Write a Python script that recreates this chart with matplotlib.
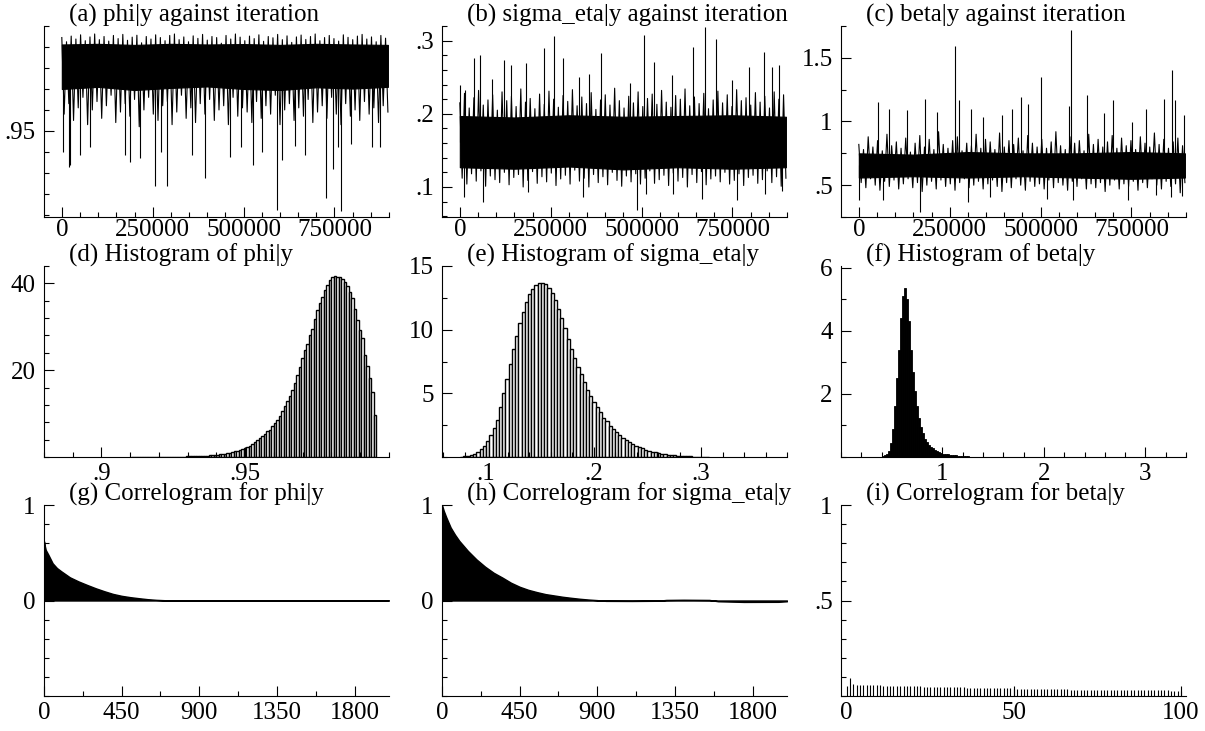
import numpy as np
import matplotlib
matplotlib.use("Agg")
import matplotlib.pyplot as plt
from matplotlib.ticker import FixedLocator, MultipleLocator, FuncFormatter, NullLocator

plt.rcParams['font.family'] = ['Liberation Serif', 'DejaVu Serif']

# ---------------- data ----------------
# (a) phi|y trace: dense core, edge extremes, isolated spikes
phi_band_iter = [0, 100000, 200000, 300000, 400000, 500000, 600000, 700000, 800000, 897000]
phi_band_hi = [0.9912, 0.9915, 0.9910, 0.9915, 0.9912, 0.9914, 0.9910, 0.9915, 0.9912, 0.9910]
phi_band_lo = [0.9700, 0.9710, 0.9695, 0.9705, 0.9712, 0.9700, 0.9695, 0.9708, 0.9702, 0.9710]
phi_edge_hi = [0.9945, 0.9925, 0.9952, 0.9938, 0.9958, 0.9930, 0.9948, 0.9962, 0.9935, 0.9950,
               0.9928, 0.9955, 0.9940, 0.9960, 0.9932, 0.9947, 0.9956, 0.9920, 0.9950, 0.9938,
               0.9958, 0.9945, 0.9930, 0.9955, 0.9962, 0.9935, 0.9948, 0.9925, 0.9953, 0.9941,
               0.9960, 0.9933, 0.9950, 0.9945, 0.9918, 0.9955, 0.9938, 0.9962, 0.9947, 0.9930,
               0.9952, 0.9940, 0.9958, 0.9927, 0.9950, 0.9944, 0.9960, 0.9935, 0.9953, 0.9922,
               0.9948, 0.9957, 0.9936, 0.9950, 0.9962, 0.9930, 0.9945, 0.9955, 0.9940, 0.9928,
               0.9958, 0.9946, 0.9935, 0.9952, 0.9960, 0.9938, 0.9948, 0.9925, 0.9955, 0.9942]
phi_edge_lo = [0.958, 0.963, 0.955, 0.961, 0.966, 0.953, 0.960, 0.964, 0.956, 0.962,
               0.967, 0.954, 0.959, 0.963, 0.957, 0.965, 0.952, 0.960, 0.966, 0.958,
               0.955, 0.962, 0.964, 0.953, 0.959, 0.967, 0.956, 0.961, 0.954, 0.963,
               0.958, 0.965, 0.955, 0.960, 0.962, 0.953, 0.966, 0.957, 0.961, 0.959,
               0.954, 0.964, 0.956, 0.962, 0.958, 0.967, 0.953, 0.960, 0.963, 0.955,
               0.961, 0.957, 0.965, 0.954, 0.959, 0.962, 0.956, 0.966, 0.958, 0.953,
               0.963, 0.957, 0.960, 0.955, 0.964, 0.958, 0.961, 0.954, 0.962, 0.959]
phi_dip_iter = [2000, 19000, 22000, 49000, 77000, 173000, 187000, 214000, 257000, 274000,
                288000, 359000, 395000, 462000, 494000, 526000, 550000, 592000, 606000,
                642000, 668000, 727000, 745000, 759000, 768000, 796000, 854000, 876000]
phi_dip_val = [0.940, 0.933, 0.934, 0.9386, 0.9425, 0.9386, 0.9354, 0.937, 0.924, 0.940,
               0.924, 0.9386, 0.9275, 0.9378, 0.9425, 0.934, 0.940, 0.9124, 0.936,
               0.943, 0.9386, 0.918, 0.932, 0.9425, 0.912, 0.944, 0.9425, 0.9425]

# (b) sigma_eta|y trace
sig_band_iter = [0, 150000, 300000, 450000, 600000, 750000, 897000]
sig_band_hi = [0.197, 0.195, 0.198, 0.196, 0.197, 0.198, 0.196]
sig_band_lo = [0.127, 0.125, 0.128, 0.124, 0.127, 0.125, 0.127]
sig_edge_hi = [0.215, 0.228, 0.208, 0.222, 0.232, 0.212, 0.219, 0.226, 0.205, 0.230,
               0.218, 0.224, 0.210, 0.234, 0.216, 0.221, 0.207, 0.227, 0.213, 0.231,
               0.220, 0.209, 0.225, 0.217, 0.233, 0.211, 0.223, 0.214, 0.229, 0.206,
               0.219, 0.226, 0.212, 0.235, 0.218, 0.208, 0.224, 0.215, 0.230, 0.210,
               0.221, 0.227, 0.213, 0.232, 0.216, 0.209, 0.225, 0.220, 0.234, 0.211,
               0.223, 0.214, 0.228, 0.207, 0.219, 0.231, 0.215, 0.226, 0.210, 0.233,
               0.218, 0.222, 0.212, 0.229, 0.216, 0.224, 0.208, 0.230, 0.220, 0.226]
sig_edge_lo = [0.112, 0.104, 0.118, 0.108, 0.122, 0.101, 0.115, 0.110, 0.106, 0.120,
               0.103, 0.113, 0.117, 0.100, 0.109, 0.121, 0.105, 0.114, 0.107, 0.119,
               0.102, 0.111, 0.116, 0.104, 0.123, 0.108, 0.112, 0.100, 0.117, 0.106,
               0.114, 0.103, 0.120, 0.109, 0.101, 0.115, 0.107, 0.118, 0.104, 0.112,
               0.122, 0.105, 0.110, 0.116, 0.102, 0.119, 0.108, 0.113, 0.100, 0.117,
               0.106, 0.121, 0.103, 0.111, 0.115, 0.107, 0.120, 0.104, 0.109, 0.118,
               0.102, 0.113, 0.116, 0.105, 0.110, 0.122, 0.106, 0.114, 0.101, 0.112]
sig_up_iter = [1800, 14700, 40300, 55000, 88800, 122700, 141000, 182200, 230800, 260000,
               284800, 328800, 356200, 388300, 468000, 505500, 534800, 583300, 640100,
               675000, 704200, 750000, 795800, 837000, 860000, 878300]
sig_up_val = [0.239, 0.232, 0.276, 0.281, 0.248, 0.273, 0.267, 0.270, 0.290, 0.306,
              0.276, 0.250, 0.255, 0.283, 0.242, 0.308, 0.271, 0.253, 0.291,
              0.319, 0.302, 0.246, 0.264, 0.285, 0.264, 0.267]
sig_down_iter = [12800, 63200, 186800, 337900, 487200, 512000, 585200, 665800, 763700, 839700, 887400]
sig_down_val = [0.086, 0.079, 0.093, 0.086, 0.068, 0.091, 0.090, 0.084, 0.082, 0.091, 0.095]

# (c) beta|y trace
beta_band_iter = [0, 150000, 300000, 450000, 600000, 750000, 897000]
beta_band_hi = [0.75, 0.74, 0.76, 0.75, 0.75, 0.76, 0.75]
beta_band_lo = [0.56, 0.57, 0.56, 0.57, 0.56, 0.55, 0.56]
beta_edge_hi = [0.82, 0.78, 0.88, 0.80, 0.85, 0.77, 0.90, 0.81, 0.84, 0.79,
                0.87, 0.76, 0.83, 0.89, 0.80, 0.86, 0.78, 0.92, 0.82, 0.79,
                0.85, 0.88, 0.77, 0.83, 0.81, 0.90, 0.79, 0.86, 0.84, 0.78,
                0.91, 0.80, 0.85, 0.82, 0.87, 0.77, 0.89, 0.83, 0.80, 0.86,
                0.79, 0.84, 0.92, 0.81, 0.78, 0.88, 0.83, 0.85, 0.77, 0.90,
                0.82, 0.86, 0.80, 0.84, 0.89, 0.79, 0.87, 0.81, 0.85, 0.78,
                0.88, 0.83, 0.80, 0.91, 0.82, 0.86, 0.79, 0.84, 0.87, 0.81]
beta_edge_lo = [0.52, 0.48, 0.55, 0.50, 0.46, 0.53, 0.49, 0.54, 0.47, 0.51,
                0.55, 0.48, 0.52, 0.45, 0.50, 0.53, 0.47, 0.54, 0.49, 0.51,
                0.46, 0.52, 0.55, 0.48, 0.50, 0.53, 0.47, 0.51, 0.54, 0.49,
                0.45, 0.52, 0.48, 0.55, 0.50, 0.46, 0.53, 0.49, 0.51, 0.47,
                0.54, 0.48, 0.52, 0.50, 0.46, 0.53, 0.49, 0.55, 0.47, 0.51,
                0.48, 0.52, 0.45, 0.50, 0.54, 0.47, 0.51, 0.49, 0.53, 0.46,
                0.52, 0.48, 0.55, 0.50, 0.47, 0.53, 0.49, 0.51, 0.44, 0.52]
beta_up_iter = [52200, 84200, 133700, 181300, 214300, 264700, 275600, 307700, 340700, 392900,
                420300, 445100, 466100, 500000, 578800, 582400, 628200, 674000, 699600,
                752700, 791200, 838800, 861700, 869000, 893800]
beta_up_val = [1.154, 1.10, 1.09, 1.18, 1.076, 1.59, 1.167, 1.10, 1.037, 1.05,
               1.10, 1.194, 1.141, 1.346, 1.12, 1.717, 1.207, 1.063, 1.167,
               0.997, 1.10, 1.173, 1.403, 1.167, 1.05]
beta_down_iter = [1800, 67800, 168500, 300400, 360800, 518300, 587900, 740800, 818700, 860000, 890100]
beta_down_val = [0.382, 0.382, 0.29, 0.369, 0.408, 0.39, 0.382, 0.382, 0.42, 0.408, 0.414]

# (d) histogram of phi|y (bin width 0.00087 from 0.9103)
phi_hist_start = 0.9103
phi_hist_width = 0.00087
phi_hist = [0.01, 0.01, 0.01, 0.01, 0.01, 0.02, 0.02, 0.02, 0.02, 0.03,
            0.03, 0.03, 0.04, 0.04, 0.05, 0.05, 0.06, 0.07, 0.08, 0.09,
            0.10, 0.11, 0.13, 0.14, 0.16, 0.18, 0.20, 0.23, 0.26, 0.30,
            0.34, 0.38, 0.43, 0.50, 0.56, 0.63, 0.71, 0.80, 0.90, 1.01,
            1.13, 1.27, 1.43, 1.60, 1.80, 2.05, 2.30, 2.60, 3.00, 3.40,
            3.90, 4.30, 4.80, 5.20, 6.00, 6.30, 7.10, 7.90, 8.60, 9.40,
            10.5, 11.7, 12.8, 14.0, 15.5, 17.0, 18.9, 20.8, 22.7, 24.6,
            26.1, 28.1, 29.6, 31.9, 33.8, 35.4, 36.9, 38.4, 39.6, 40.8,
            41.4, 41.7, 41.5, 41.4, 41.0, 40.2, 39.4, 38.1, 36.6, 34.0,
            31.6, 29.3, 27.4, 23.5, 21.0, 18.2, 15.0, 9.7]

# (e) histogram of sigma_eta|y (bin width 0.003 from 0.076)
sig_hist_start = 0.076
sig_hist_width = 0.003
sig_hist = [0.02, 0.04, 0.08, 0.14, 0.25, 0.40, 0.60, 0.85, 1.25, 1.70,
            2.25, 2.90, 3.90, 5.00, 6.10, 7.30, 8.50, 9.50, 10.5, 11.4,
            12.2, 12.8, 13.2, 13.5, 13.7, 13.7, 13.6, 13.3, 12.9, 12.3,
            11.6, 10.9, 10.1, 9.30, 8.50, 7.80, 7.10, 6.50, 5.90, 5.30,
            4.80, 4.30, 3.90, 3.50, 3.10, 2.80, 2.45, 2.20, 1.95, 1.72,
            1.52, 1.35, 1.18, 1.03, 0.90, 0.78, 0.67, 0.58, 0.50, 0.43,
            0.37, 0.31, 0.26, 0.22, 0.18, 0.15, 0.12, 0.10, 0.08, 0.06,
            0.05, 0.04, 0.03, 0.02, 0.02, 0.01, 0.01]

# (f) histogram of beta|y (bin width 0.02 from 0.34)
beta_hist_start = 0.34
beta_hist_width = 0.02
beta_hist = [0.005, 0.01, 0.015, 0.025, 0.05, 0.10, 0.20, 0.45, 0.90, 1.60,
             2.50, 3.40, 4.40, 5.10, 5.35, 5.00, 4.30, 3.40, 2.70, 2.10,
             1.60, 1.25, 0.95, 0.75, 0.58, 0.47, 0.38, 0.32, 0.27, 0.22,
             0.18, 0.15, 0.13, 0.11, 0.10, 0.08, 0.07, 0.06, 0.055, 0.05,
             0.04, 0.035, 0.03, 0.025, 0.02, 0.02, 0.015, 0.015, 0.01, 0.01,
             0.008, 0.006, 0.005, 0.004, 0.003]

# (g) correlogram phi|y
phi_acf_lag = [0, 5, 10, 25, 50, 75, 100, 150, 200, 250, 300, 350, 400, 450, 500, 550, 600,
               650, 700, 800, 900, 1000, 1100, 1200, 1300, 1400, 1500, 1600, 1700, 1800, 1900, 2000]
phi_acf = [0.62, 0.57, 0.53, 0.48, 0.39, 0.34, 0.306, 0.243, 0.200, 0.163, 0.128, 0.097, 0.069,
           0.049, 0.035, 0.024, 0.014, 0.007, 0.003, 0.001, 0.002, 0.001, -0.001, 0.002, 0.001,
           0.002, -0.001, 0.001, 0.002, 0.001, 0.002, 0.001]

# (h) correlogram sigma_eta|y
sig_acf_lag = [0, 10, 25, 50, 75, 100, 150, 200, 250, 300, 350, 400, 450, 500, 550, 600, 650,
               700, 750, 800, 850, 900, 950, 1100, 1250, 1300, 1400, 1550, 1600, 1750, 1950, 2000]
sig_acf = [1.00, 0.94, 0.87, 0.765, 0.69, 0.625, 0.52, 0.43, 0.354, 0.29, 0.24, 0.186, 0.144,
           0.112, 0.088, 0.067, 0.053, 0.039, 0.028, 0.018, 0.010, 0.004, -0.004, -0.005,
           -0.003, 0.006, 0.008, 0.006, -0.008, -0.015, -0.014, -0.008]

# (i) correlogram beta|y, lags 1..100
beta_acf = [0.095, 0.065, 0.058, 0.057, 0.057, 0.056, 0.056, 0.055, 0.055, 0.055,
            0.054, 0.054, 0.053, 0.053, 0.053, 0.052, 0.052, 0.051, 0.051, 0.051,
            0.050, 0.050, 0.049, 0.049, 0.049, 0.048, 0.048, 0.047, 0.047, 0.047,
            0.046, 0.046, 0.045, 0.045, 0.045, 0.044, 0.044, 0.043, 0.043, 0.043,
            0.042, 0.042, 0.042, 0.041, 0.041, 0.041, 0.040, 0.040, 0.040, 0.039,
            0.039, 0.039, 0.038, 0.038, 0.038, 0.037, 0.037, 0.037, 0.036, 0.036,
            0.036, 0.036, 0.035, 0.035, 0.035, 0.035, 0.034, 0.034, 0.034, 0.034,
            0.033, 0.033, 0.033, 0.033, 0.032, 0.032, 0.032, 0.032, 0.032, 0.031,
            0.031, 0.031, 0.031, 0.031, 0.030, 0.030, 0.030, 0.030, 0.030, 0.030,
            0.029, 0.029, 0.029, 0.029, 0.029, 0.029, 0.028, 0.028, 0.028, 0.028]

titles = ["(a) phi|y against iteration", "(b) sigma_eta|y against iteration",
          "(c) beta|y against iteration", "(d) Histogram of phi|y",
          "(e) Histogram of sigma_eta|y", "(f) Histogram of beta|y",
          "(g) Correlogram for phi|y", "(h) Correlogram for sigma_eta|y",
          "(i) Correlogram for beta|y"]
n_iter = 897000

# ---------------- layout (pixels) ----------------
W, H = 1205, 731
col_left = [44, 442, 841]
col_w = 345
row_top = [26, 266, 505]
row_h = 191

fig = plt.figure(figsize=(W / 100, H / 100), dpi=100)


def short(v, pos):
    s = f"{v:g}"
    if s.startswith("0."):
        s = s[1:]
    return s


axes = []
for r in range(3):
    for c in range(3):
        ax = fig.add_axes([col_left[c] / W, 1 - (row_top[r] + row_h) / H, col_w / W, row_h / H])
        for side in ("top", "right"):
            ax.spines[side].set_visible(False)
        for side in ("left", "bottom"):
            ax.spines[side].set_linewidth(0.8)
        ax.tick_params(which="both", direction="in", width=0.8, labelsize=18)
        ax.tick_params(which="major", length=7)
        ax.tick_params(which="minor", length=3.6)
        ax.tick_params(axis="y", pad=6)
        ax.tick_params(axis="x", pad=1.5 if r == 0 else 4.5)
        ax.xaxis.set_major_formatter(FuncFormatter(short))
        ax.yaxis.set_major_formatter(FuncFormatter(short))
        fig.text((col_left[c] + 25) / W, 1 - (row_top[r] - 4) / H, titles[3 * r + c],
                 fontsize=18, va="baseline", ha="left")
        axes.append(ax)


def trace(ax, band_x, lo, hi, edge_hi, edge_lo, sx1, sv1, sx2=None, sv2=None):
    ax.fill_between(band_x, lo, hi, color="black", lw=0.8)
    # edge extremes drawn as the zig-zag path of the chain
    zx = np.linspace(0, n_iter, 2 * len(edge_hi))
    zy = np.ravel(np.column_stack([edge_hi, edge_lo]))
    ax.plot(zx, zy, color="black", lw=0.8)
    mid = (hi[0] + lo[0]) / 2
    ax.vlines(sx1, mid, sv1, color="black", lw=0.8)
    if sx2 is not None:
        ax.vlines(sx2, mid, sv2, color="black", lw=0.8)
    ax.set_xlim(-49000, 900000)
    ax.xaxis.set_major_locator(MultipleLocator(250000))
    ax.xaxis.set_minor_locator(MultipleLocator(50000))


# row 1: traces
ax = axes[0]
trace(ax, phi_band_iter, phi_band_lo, phi_band_hi, phi_edge_hi, phi_edge_lo,
      phi_dip_iter, phi_dip_val)
ax.set_ylim(0.909, 1.0)
ax.yaxis.set_major_locator(FixedLocator([0.95]))
ax.yaxis.set_minor_locator(MultipleLocator(0.01))

ax = axes[1]
trace(ax, sig_band_iter, sig_band_lo, sig_band_hi, sig_edge_hi, sig_edge_lo,
      sig_up_iter, sig_up_val, sig_down_iter, sig_down_val)
ax.set_ylim(0.059, 0.32)
ax.yaxis.set_major_locator(FixedLocator([0.1, 0.2, 0.3]))
ax.yaxis.set_minor_locator(MultipleLocator(0.02))

ax = axes[2]
trace(ax, beta_band_iter, beta_band_lo, beta_band_hi, beta_edge_hi, beta_edge_lo,
      beta_up_iter, beta_up_val, beta_down_iter, beta_down_val)
ax.set_ylim(0.25, 1.75)
ax.yaxis.set_major_locator(FixedLocator([0.5, 1.0, 1.5]))
ax.yaxis.set_minor_locator(MultipleLocator(0.25))

# row 2: histograms
ax = axes[3]
x = phi_hist_start + phi_hist_width * (np.arange(len(phi_hist)) + 0.5)
ax.bar(x, phi_hist, width=phi_hist_width, color="white", edgecolor="black", linewidth=1.0)
ax.set_xlim(0.88, 1.0)
ax.set_ylim(0, 44)
ax.xaxis.set_major_locator(FixedLocator([0.9, 0.95]))
ax.xaxis.set_minor_locator(MultipleLocator(0.01))
ax.yaxis.set_major_locator(FixedLocator([20, 40]))
ax.yaxis.set_minor_locator(MultipleLocator(4))

ax = axes[4]
x = sig_hist_start + sig_hist_width * (np.arange(len(sig_hist)) + 0.5)
ax.bar(x, sig_hist, width=sig_hist_width, color="white", edgecolor="black", linewidth=1.0)
ax.set_xlim(0.059, 0.38)
ax.set_ylim(0, 15)
ax.xaxis.set_major_locator(FixedLocator([0.1, 0.2, 0.3]))
ax.xaxis.set_minor_locator(MultipleLocator(0.02))
ax.yaxis.set_major_locator(FixedLocator([5, 10, 15]))
ax.yaxis.set_minor_locator(MultipleLocator(2.5))

ax = axes[5]
x = beta_hist_start + beta_hist_width * (np.arange(len(beta_hist)) + 0.5)
ax.bar(x, beta_hist, width=beta_hist_width, color="black", edgecolor="black", linewidth=0.6)
ax.set_xlim(0.0, 3.4)
ax.set_ylim(0, 6.05)
ax.xaxis.set_major_locator(FixedLocator([1, 2, 3]))
ax.xaxis.set_minor_locator(MultipleLocator(0.2))
ax.yaxis.set_major_locator(FixedLocator([2, 4, 6]))
ax.yaxis.set_minor_locator(MultipleLocator(1))

# row 3: correlograms
for ax, lag, acf in ((axes[6], phi_acf_lag, phi_acf), (axes[7], sig_acf_lag, sig_acf)):
    ax.fill_between(lag, 0, acf, color="black", lw=1.0)
    ax.set_xlim(0, 2000)
    ax.set_ylim(-1, 1)
    ax.xaxis.set_major_locator(MultipleLocator(450))
    ax.xaxis.set_minor_locator(MultipleLocator(225))
    ax.yaxis.set_major_locator(FixedLocator([0, 1]))
    ax.yaxis.set_minor_locator(MultipleLocator(0.2))

ax = axes[8]
lags = np.arange(1, len(beta_acf) + 1)
ax.vlines(lags, 0, beta_acf, color="black", lw=0.8)
ax.set_xlim(-1.7, 101.5)
ax.set_ylim(0, 1)
ax.xaxis.set_major_locator(FixedLocator([0, 50, 100]))
ax.xaxis.set_minor_locator(NullLocator())
ax.yaxis.set_major_locator(FixedLocator([0.5, 1.0]))
ax.yaxis.set_minor_locator(MultipleLocator(0.1))

fig.savefig("out.png", dpi=100)
